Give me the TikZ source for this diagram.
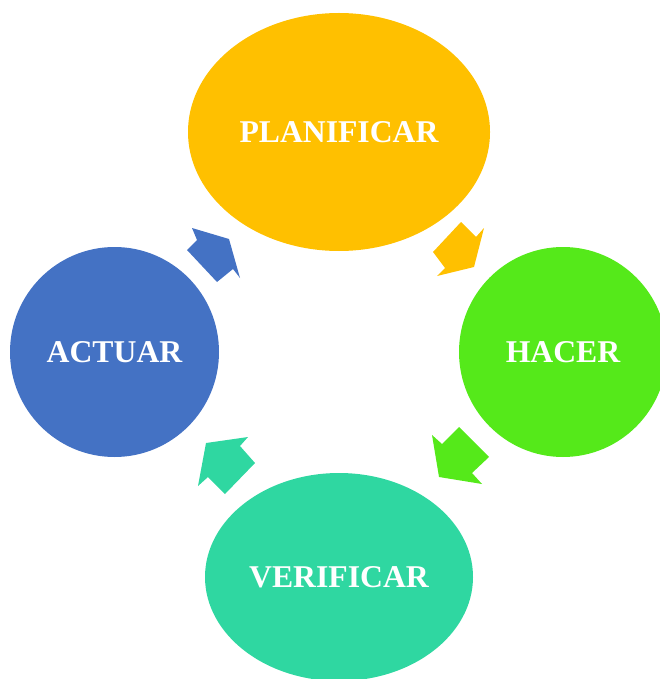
\documentclass[tikz,border=0pt]{standalone}
\usepackage{fontspec}
\setmainfont{Liberation Serif}
\definecolor{cyel}{HTML}{FFC000}
\definecolor{cgrn}{HTML}{55E91A}
\definecolor{cblu}{HTML}{4472C4}
\definecolor{ctea}{HTML}{2FD7A1}
\tikzset{
  lbl/.style={text=white,font=\fontsize{31.7}{38}\selectfont\bfseries},
  blob/.style={fill=#1,draw=none},
}
\begin{document}
\begin{tikzpicture}[x=1pt,y=-1pt]
\clip (0,0) rectangle (660,679);
\useasboundingbox (0,0) rectangle (660,679);
\fill[blob=cyel] (339,132) ellipse [x radius=151, y radius=119];
\fill[blob=cgrn] (563,352) ellipse [x radius=104, y radius=105];
\fill[blob=cblu] (114.5,352) ellipse [x radius=104.5, y radius=105];
\fill[blob=ctea] (339,577) ellipse [x radius=134, y radius=104];
\node[lbl] (plan) at (339,132) {PLANIFICAR};
\node[lbl] (hacer) at (563,352) {HACER};
\node[lbl] (actuar) at (114.5,352) {ACTUAR};
\node[lbl] (verif) at (339,577) {VERIFICAR};
\fill[cyel] (461,222) -- (433,252) -- (445,268) -- (437,276) -- (474,267) -- (484,228) -- (476,237) -- cycle;
\fill[cgrn] (459,427) -- (489,457) -- (472,473) -- (482,484) -- (439,477) -- (432,435) -- (442,444) -- cycle;
\fill[ctea] (206,443) -- (248,437) -- (240,446) -- (255,463) -- (225,494) -- (208,477) -- (198,486) -- cycle;
\fill[cblu] (192,228) -- (229,239) -- (240,278) -- (233,269) -- (217,282) -- (187,250) -- (197,240) -- cycle;
\end{tikzpicture}
\end{document}
